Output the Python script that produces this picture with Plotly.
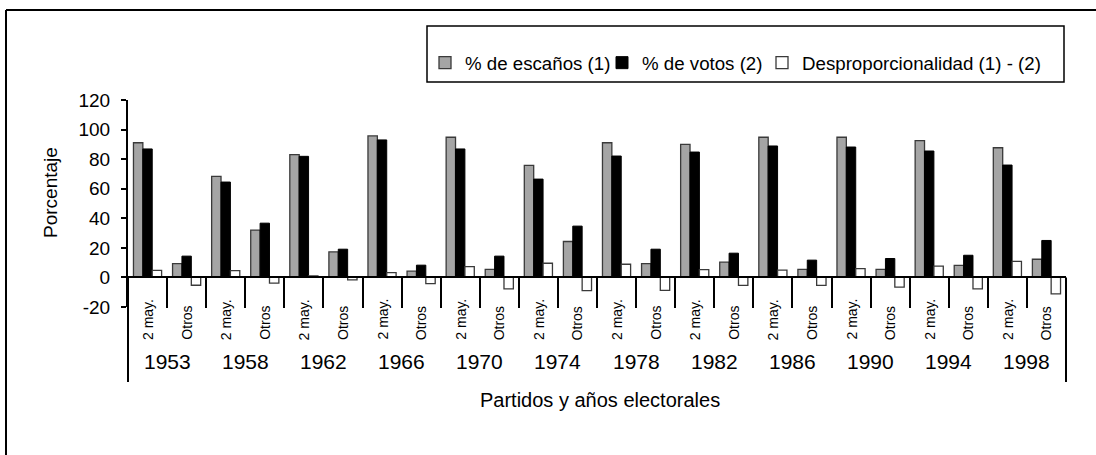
import plotly.graph_objects as go

# ---------------- data ----------------
years = ["1953", "1958", "1962", "1966", "1970", "1974",
         "1978", "1982", "1986", "1990", "1994", "1998"]
parties = ["2 may.", "Otros"]

series_names = ["% de escaños (1)", "% de votos (2)", "Desproporcionalidad (1) - (2)"]

escanos = [91.1, 9.4, 68.4, 32.0, 83.0, 17.3, 95.7, 4.2, 94.8, 5.4, 75.8, 24.3,
           91.1, 9.4, 90.0, 10.3, 94.8, 5.4, 94.8, 5.4, 92.5, 8.1, 87.7, 12.3]
votos = [86.9, 14.4, 64.5, 36.7, 81.9, 19.1, 93.0, 8.3, 86.9, 14.4, 66.5, 34.7,
         82.1, 19.1, 84.8, 16.4, 88.9, 11.7, 88.2, 12.8, 85.5, 15.0, 76.0, 25.0]
desprop = [4.8, -5.3, 4.6, -3.8, 1.0, -1.7, 3.2, -4.2, 7.3, -7.8, 9.6, -8.9,
           8.9, -8.8, 5.3, -5.4, 5.0, -5.4, 5.9, -6.6, 7.6, -7.8, 10.9, -11.1]

y_tick_vals = [-20, 0, 20, 40, 60, 80, 100, 120]
y_tick_text = ["-20", "0", "20", "40", "60", "80", "100", "120"]

x_title = "Partidos y años electorales"
y_title = "Porcentaje"

# ---------------- layout helpers (pixels -> paper) ----------------
FW, FH = 1096, 455
ML, MR, MT, MB = 128, 30, 100, 148
PW, PH = FW - ML - MR, FH - MT - MB


def px(xp):
    return (xp - ML) / PW


def py(yp):
    return (FH - MB - yp) / PH


FONT = "Liberation Sans, Arial, Helvetica, sans-serif"

cat_labels = [p for y in years for p in parties]
xpos = list(range(len(cat_labels)))

fig = go.Figure()
styles = [
    dict(color="#a5a5a5", line=dict(color="#3a3a3a", width=1.3)),
    dict(color="#000000", line=dict(color="#000000", width=1.0)),
    dict(color="#ffffff", line=dict(color="#3a3a3a", width=1.3)),
]
legend_ids = ["legend", "legend2", "legend3"]
for name, vals, st, lg in zip(series_names, [escanos, votos, desprop], styles, legend_ids):
    fig.add_trace(go.Bar(x=xpos, y=vals, name=name, marker=st, legend=lg))

ymin, ymax = y_tick_vals[0], y_tick_vals[-1]
zero_frac = (0 - ymin) / (ymax - ymin)

fig.update_layout(
    width=FW, height=FH,
    margin=dict(l=ML, r=MR, t=MT, b=MB, pad=0),
    paper_bgcolor="white", plot_bgcolor="white",
    font=dict(family=FONT, color="black"),
    barmode="group", bargap=0.28, bargroupgap=0.0,
    showlegend=True,
    xaxis=dict(
        range=[-0.5, len(cat_labels) - 0.5],
        anchor="free", position=zero_frac,
        showline=True, linecolor="black", linewidth=2,
        ticks="outside", ticklen=30, tickwidth=2, tickcolor="black",
        tickmode="array", tickvals=[i - 0.5 for i in range(len(cat_labels) + 1)],
        showticklabels=False, showgrid=False, zeroline=False,
    ),
    yaxis=dict(
        range=[ymin, ymax],
        tickmode="array", tickvals=y_tick_vals, ticktext=y_tick_text,
        showline=True, linecolor="black", linewidth=2,
        ticks="outside", ticklen=5, tickwidth=1.5, tickcolor="black",
        tickfont=dict(size=19), ticklabelstandoff=7,
        showgrid=False, zeroline=False,
    ),
)

leg_common = dict(orientation="h", yanchor="middle", xanchor="left",
                  bgcolor="rgba(0,0,0,0)", borderwidth=0,
                  font=dict(size=18.7, family=FONT), itemwidth=30)
fig.update_layout(
    legend=dict(x=px(425), y=py(63), **leg_common),
    legend2=dict(x=px(602), y=py(63), **leg_common),
    legend3=dict(x=px(762), y=py(63), **leg_common),
)

annotations = []
for i, lab in enumerate(cat_labels):
    annotations.append(dict(x=xpos[i], y=py(342), xref="x", yref="paper",
                            text=lab, textangle=-90, showarrow=False,
                            xanchor="center", yanchor="bottom",
                            font=dict(size=14)))
for k, yr in enumerate(years):
    annotations.append(dict(x=(xpos[2 * k] + xpos[2 * k + 1]) / 2, y=py(361),
                            xref="x", yref="paper", text=yr, showarrow=False,
                            xanchor="center", yanchor="middle", font=dict(size=21)))
annotations.append(dict(x=px(600), y=py(400), xref="paper", yref="paper",
                        text=x_title, showarrow=False, xanchor="center",
                        yanchor="middle", font=dict(size=20)))
annotations.append(dict(x=px(50), y=py(193), xref="paper", yref="paper",
                        text=y_title, showarrow=False, textangle=-90,
                        xanchor="center", yanchor="middle", font=dict(size=19)))
fig.update_layout(annotations=annotations)

shapes = [
    # outer frame (left and top edges)
    dict(type="line", xref="paper", yref="paper", x0=px(6), x1=px(6),
         y0=py(470), y1=py(10), line=dict(color="black", width=2)),
    dict(type="line", xref="paper", yref="paper", x0=px(6), x1=px(1110),
         y0=py(10), y1=py(10), line=dict(color="black", width=2)),
    # legend box
    dict(type="rect", xref="paper", yref="paper", x0=px(427), x1=px(1064),
         y0=py(82), y1=py(26), line=dict(color="black", width=1.5)),
    # axis extensions below plot area
    dict(type="line", xref="paper", yref="paper", x0=0, x1=0,
         y0=py(382), y1=0, line=dict(color="black", width=2)),
    dict(type="line", xref="paper", yref="paper", x0=1, x1=1,
         y0=py(382), y1=zero_frac, line=dict(color="black", width=2)),
]
fig.update_layout(shapes=shapes)

fig.write_html("out.html",
               config={"displayModeBar": False},
               post_script="document.body.style.margin='0';"
                           "document.body.style.overflow='hidden';")
